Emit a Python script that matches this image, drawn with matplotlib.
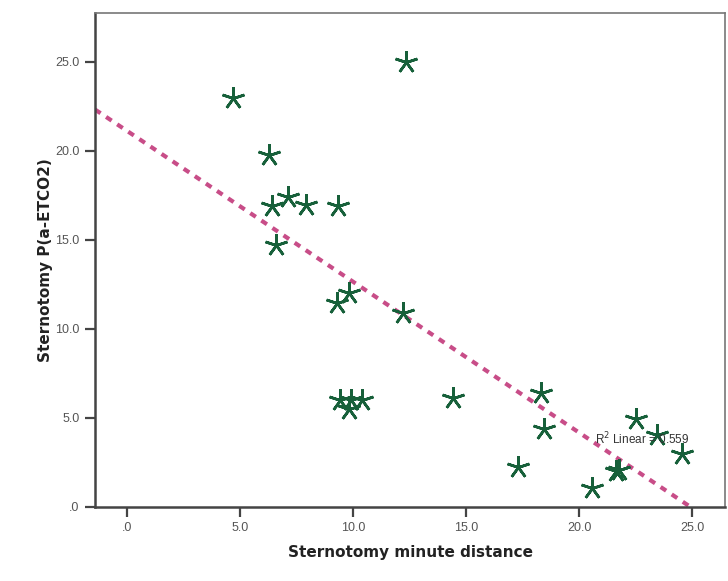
import numpy as np
import matplotlib.pyplot as plt
from matplotlib.ticker import FuncFormatter

# minute distance vs P(a-ETCO2), sternotomy group
dist = [4.7, 12.35, 6.3, 7.1, 6.4, 7.9, 9.35, 6.6, 9.8, 9.3, 12.2,
        9.4, 9.9, 10.4, 9.8, 14.4, 18.3, 18.45, 17.3, 20.55, 21.65, 21.75,
        22.5, 23.45, 24.55]
petco2 = [23.0, 25.0, 19.8, 17.4, 16.9, 16.95, 16.9, 14.7, 12.0, 11.45, 10.9,
          6.0, 6.0, 6.0, 5.5, 6.1, 6.4, 4.4, 2.25, 1.05, 2.0, 2.1,
          4.95, 4.05, 3.0]
r2_text = "R$^2$ Linear = 0.559"

x = np.array(dist)
y = np.array(petco2)
slope, icpt = np.polyfit(x, y, 1)

fig = plt.figure(figsize=(7.28, 5.81), dpi=100)
ax = fig.add_axes([0.1305, 0.1274, 0.8655, 0.8502])

xlo, xhi = -1.42, 26.46
ax.set_xlim(xlo, xhi)
ax.set_ylim(0, 27.75)

# fit line, clipped by the axes
xx = np.array([xlo, xhi])
ax.plot(xx, icpt + slope * xx, color='#c84d88', lw=3, ls=(0, (1.6, 1.6)),
        zorder=2)

ax.plot(x, y, ls='none', marker=(5, 2, 0), ms=16.5, mew=1.9, color='#17603a',
        zorder=3)

ax.text(20.7, 3.8, r2_text, fontsize=8.5, family='Liberation Sans',
        color='#333333', va='center', ha='left', zorder=4)

fmt = FuncFormatter(lambda v, p: ('%.1f' % v).lstrip('0') if v < 1 else '%.1f' % v)
ax.set_xticks([0, 5, 10, 15, 20, 25])
ax.set_yticks([0, 5, 10, 15, 20, 25])
ax.xaxis.set_major_formatter(fmt)
ax.yaxis.set_major_formatter(fmt)
ax.tick_params(direction='out', length=7, width=1.6, color='#444444',
               labelsize=9, labelcolor='#555555', pad=4)
for lab in ax.get_xticklabels() + ax.get_yticklabels():
    lab.set_family('Liberation Sans')

for s in ['left', 'bottom']:
    ax.spines[s].set_color('#444444')
    ax.spines[s].set_linewidth(1.8)
for s in ['top', 'right']:
    ax.spines[s].set_color('#777777')
    ax.spines[s].set_linewidth(1.2)

ax.set_xlabel('Sternotomy minute distance', fontsize=11, fontweight='bold',
              color='#222222', labelpad=8)
ax.set_ylabel('Sternotomy P(a-ETCO2)', fontsize=11, fontweight='bold',
              color='#222222', labelpad=2)

fig.savefig('out.png', dpi=100)
